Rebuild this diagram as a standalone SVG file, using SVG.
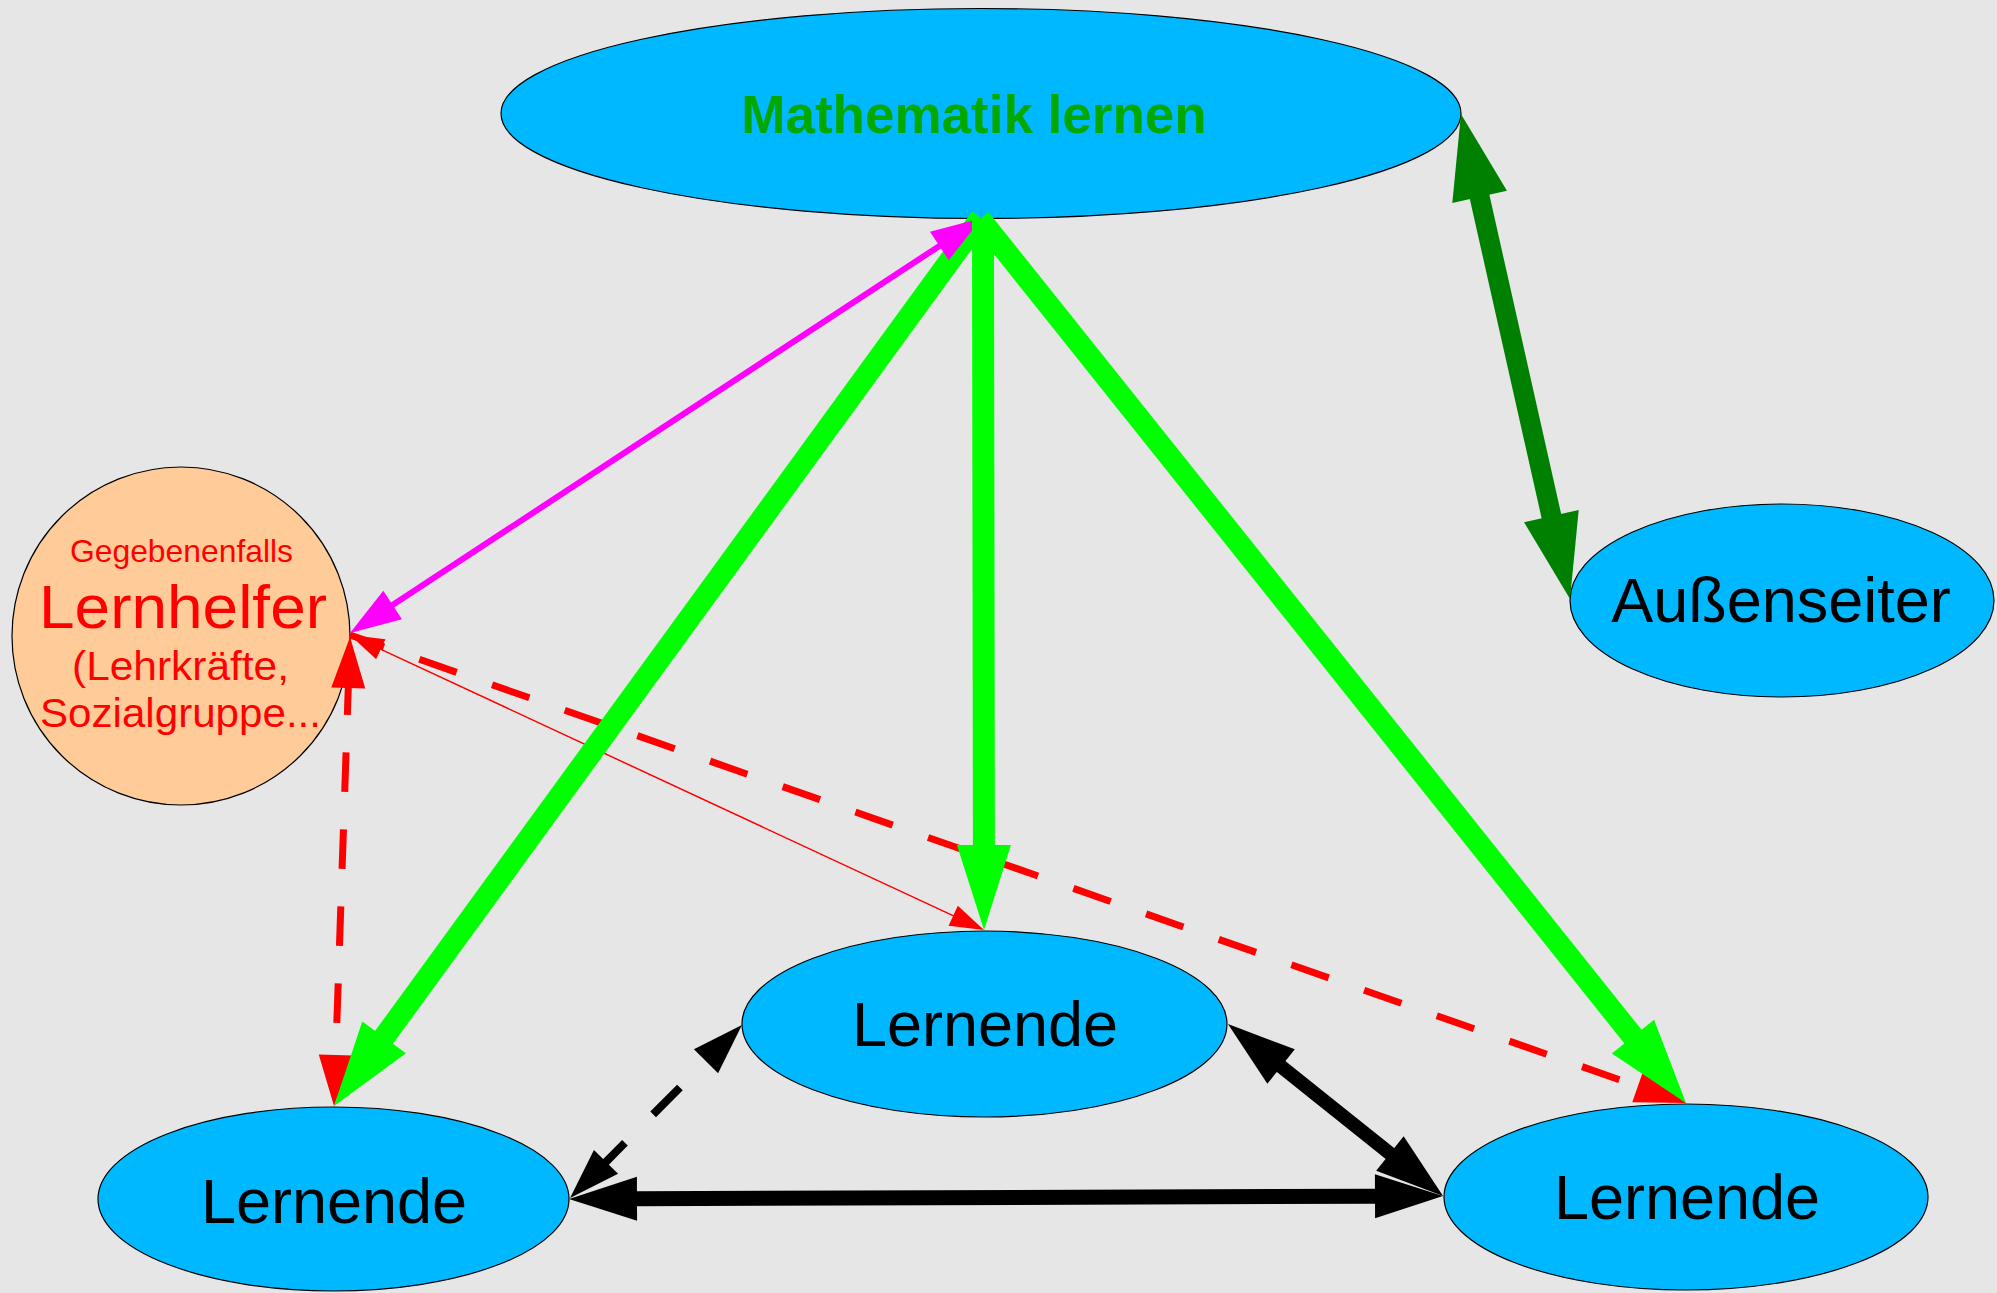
<svg xmlns="http://www.w3.org/2000/svg" width="1997" height="1293" viewBox="0 0 1997 1293">
<style>
.node{fill:#00b8ff;stroke:#000;stroke-width:1.2}
.lbl{font-family:"Liberation Sans",Arial,sans-serif;font-size:63px;fill:#000;text-anchor:middle}
.helper{font-family:"Liberation Sans",Arial,sans-serif;fill:#ff0000}
.c{fill:none;stroke-linecap:butt}
</style>
<defs>
<marker id="mG" markerUnits="userSpaceOnUse" orient="auto-start-reverse" refX="0" refY="0" markerWidth="90" markerHeight="60" overflow="visible"><path d="M-1,-27 L84,0 L-1,27 Z" fill="#00ff00"/></marker>
<marker id="mDG" markerUnits="userSpaceOnUse" orient="auto-start-reverse" refX="0" refY="0" markerWidth="90" markerHeight="60" overflow="visible"><path d="M-1,-28 L84,0 L-1,28 Z" fill="#008000"/></marker>
<marker id="mM" markerUnits="userSpaceOnUse" orient="auto-start-reverse" refX="0" refY="0" markerWidth="60" markerHeight="40" overflow="visible"><path d="M-1,-17 L50,0 L-1,17 Z" fill="#ff00ff"/></marker>
<marker id="mR" markerUnits="userSpaceOnUse" orient="auto-start-reverse" refX="0" refY="0" markerWidth="60" markerHeight="40" overflow="visible"><path d="M-1,-17 L50,0 L-1,17 Z" fill="#ff0000"/></marker>
<marker id="mRs" markerUnits="userSpaceOnUse" orient="auto-start-reverse" refX="0" refY="0" markerWidth="40" markerHeight="30" overflow="visible"><path d="M-1,-11 L33,0 L-1,11 Z" fill="#ff0000"/></marker>
<marker id="mB" markerUnits="userSpaceOnUse" orient="auto-start-reverse" refX="0" refY="0" markerWidth="70" markerHeight="50" overflow="visible"><path d="M-1,-22 L67,0 L-1,22 Z" fill="#000"/></marker>
<marker id="mBs" markerUnits="userSpaceOnUse" orient="auto-start-reverse" refX="0" refY="0" markerWidth="60" markerHeight="40" overflow="visible"><path d="M-1,-17 L50,0 L-1,17 Z" fill="#000"/></marker>
</defs>
<rect x="0" y="0" width="1997" height="1293" fill="#e6e6e6"/>

<g id="node-mathematik">
<ellipse class="node" cx="981" cy="113.5" rx="480" ry="105"/>
<text x="974" y="133" font-family="'Liberation Sans',Arial,sans-serif" font-size="53" font-weight="bold" fill="#00a800" text-anchor="middle">Mathematik lernen</text>
</g>
<g id="node-lernhelfer">
<circle cx="181" cy="636" r="169" fill="#ffcc99" stroke="#000" stroke-width="1.2"/>
<text class="helper" x="70" y="562" font-size="32" textLength="223" lengthAdjust="spacingAndGlyphs">Gegebenenfalls</text>
<text class="helper" x="39" y="628" font-size="62" textLength="288" lengthAdjust="spacingAndGlyphs">Lernhelfer</text>
<text class="helper" x="72" y="680" font-size="41" textLength="217" lengthAdjust="spacingAndGlyphs">(Lehrkräfte,</text>
<text class="helper" x="40" y="727" font-size="41" textLength="281" lengthAdjust="spacingAndGlyphs">Sozialgruppe...</text>
</g>
<g id="node-aussenseiter">
<ellipse class="node" cx="1782" cy="600.5" rx="212" ry="96.5"/>
<text class="lbl" x="1781" y="622" font-size="64">Außenseiter</text>
</g>
<g id="node-lernende-links">
<ellipse class="node" cx="333.5" cy="1199" rx="235.5" ry="92"/>
<text class="lbl" x="334" y="1223">Lernende</text>
</g>
<g id="node-lernende-mitte">
<ellipse class="node" cx="984.5" cy="1024" rx="242.5" ry="93"/>
<text class="lbl" x="985" y="1046">Lernende</text>
</g>
<g id="node-lernende-rechts">
<ellipse class="node" cx="1686" cy="1197" rx="242" ry="93"/>
<text class="lbl" x="1687" y="1219">Lernende</text>
</g>

<g id="connectors">
<line class="c" x1="350" y1="635" x2="1638.8" y2="1086.5" stroke="#ff0000" stroke-width="7" stroke-dasharray="39.5 37.5" stroke-dashoffset="3.5" marker-end="url(#mR)"/>
<line class="c" x1="348.3" y1="687" x2="335.7" y2="1056" stroke="#ff0000" stroke-width="7" stroke-dasharray="39.5 37.5" stroke-dashoffset="11.5" marker-start="url(#mR)" marker-end="url(#mR)"/>
<line class="c" x1="379.9" y1="648.9" x2="954.1" y2="916.1" stroke="#ff0000" stroke-width="1.5" marker-start="url(#mRs)" marker-end="url(#mRs)"/>
<line class="c" x1="981" y1="218" x2="383.5" y2="1038.1" stroke="#00ff00" stroke-width="22" marker-end="url(#mG)"/>
<line class="c" x1="940.2" y1="245.4" x2="391.8" y2="605.6" stroke="#ff00ff" stroke-width="6" marker-start="url(#mM)" marker-end="url(#mM)"/>
<line class="c" x1="983" y1="219" x2="983.9" y2="846" stroke="#00ff00" stroke-width="22" marker-end="url(#mG)"/>
<line class="c" x1="980" y1="219" x2="1633.6" y2="1037.4" stroke="#00ff00" stroke-width="22" marker-end="url(#mG)"/>
<line class="c" x1="1479.4" y1="196" x2="1551.6" y2="517" stroke="#008000" stroke-width="20" marker-start="url(#mDG)" marker-end="url(#mDG)"/>
<line class="c" x1="636" y1="1198.8" x2="1376" y2="1196.2" stroke="#000" stroke-width="15" marker-start="url(#mB)" marker-end="url(#mB)"/>
<line class="c" x1="1280.3" y1="1065.9" x2="1390.7" y2="1154.1" stroke="#000" stroke-width="14" marker-start="url(#mB)" marker-end="url(#mB)"/>
<line class="c" x1="706.7" y1="1060.5" x2="605.3" y2="1162.6" stroke="#000" stroke-width="8" stroke-dasharray="38 40" stroke-dashoffset="40" marker-start="url(#mBs)" marker-end="url(#mBs)"/>
</g>
</svg>
